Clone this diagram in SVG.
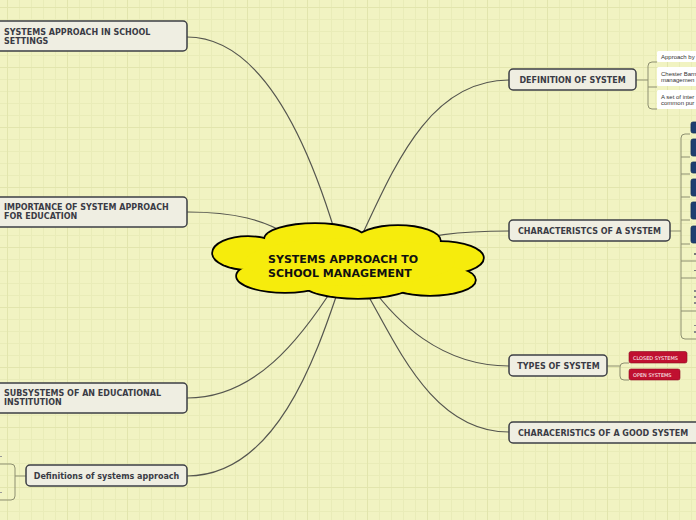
<svg xmlns="http://www.w3.org/2000/svg" width="696" height="520" viewBox="0 0 696 520">
<defs>
<pattern id="fine" width="12" height="12" patternUnits="userSpaceOnUse" x="7" y="7">
<path d="M0,0.5H12M0.5,0V12" fill="none" stroke="#e9ecb8" stroke-width="1"/>
</pattern>
<pattern id="major" width="60" height="60" patternUnits="userSpaceOnUse" x="7" y="7">
<path d="M0,0.5H60M0.5,0V60" fill="none" stroke="#e2e5ad" stroke-width="1"/>
</pattern>
</defs>
<style>
.node rect{fill:#efeee2;stroke:#3d3f45;stroke-width:1.5}
.lbl{font-family:"DejaVu Sans",Verdana,sans-serif;font-weight:bold;font-size:8px;fill:#3a3b45}
.conn path{fill:none;stroke:#55564f;stroke-width:1.2}
.br{fill:none;stroke:#8d8f70;stroke-width:1}
.blue{fill:#1f3f70;stroke:#16305a;stroke-width:0.8}
.red{fill:#c01030;stroke:#8a0a20;stroke-width:0.6}
.redt{font-family:"DejaVu Sans",Verdana,sans-serif;font-size:5px;fill:#ffffff}
.wt{fill:#ffffff;stroke:none}
.small{font-family:"Liberation Sans",Arial,sans-serif;font-size:6px;fill:#333333}
.cs{fill:none;stroke:#000;stroke-width:3.5}
.cf{fill:#f6ec0c;stroke:none}
</style>
<rect width="696" height="520" fill="#f1f3c2"/>
<rect width="696" height="520" fill="url(#fine)"/>
<rect width="696" height="520" fill="url(#major)"/>

<g id="connectors" class="conn">
<path d="M187,37 C265,37 310,150 335,232"/>
<path d="M187,212 C235,212 265,220 290,236"/>
<path d="M187,398 C255,398 300,340 335,285"/>
<path d="M187,476 C275,476 315,360 340,285"/>
<path d="M509,80 C430,80 395,165 362,235"/>
<path d="M509,231 C455,231 425,236 400,245"/>
<path d="M509,366 C440,366 395,320 370,285"/>
<path d="M509,432 C430,432 395,340 362,285"/>
</g>

<g id="brackets">
<path class="br" d="M636,80H648"/>
<path class="br" d="M657,62H652Q648,62 648,66V105Q648,109 652,109H657M648,87H657"/>
<path class="br" d="M669,231H681"/>
<path class="br" d="M690,134H685Q681,134 681,138V335Q681,339 685,339H696M681,157H690M681,174H690M681,197H690M681,220H690M681,244H690M681,261H696M681,278H696M681,311H696"/>
<path class="br" d="M607,366H620"/>
<path class="br" d="M629,363H624Q620,363 620,367V376Q620,380 624,380H629"/>
<path class="br" d="M26,476H15"/>
<path class="br" d="M0,464H11Q15,464 15,468V496Q15,500 11,500H0"/>
</g>

<g id="center">
<ellipse class="cs" cx="248" cy="253" rx="35" ry="16"/>
<ellipse class="cs" cx="315" cy="239" rx="50" ry="15"/>
<ellipse class="cs" cx="398" cy="241" rx="42" ry="15"/>
<ellipse class="cs" cx="440" cy="258" rx="43" ry="16"/>
<ellipse class="cs" cx="430" cy="280" rx="45" ry="15"/>
<ellipse class="cs" cx="358" cy="283" rx="55" ry="15"/>
<ellipse class="cs" cx="285" cy="276" rx="48" ry="16"/>
<ellipse class="cf" cx="248" cy="253" rx="35" ry="16"/>
<ellipse class="cf" cx="315" cy="239" rx="50" ry="15"/>
<ellipse class="cf" cx="398" cy="241" rx="42" ry="15"/>
<ellipse class="cf" cx="440" cy="258" rx="43" ry="16"/>
<ellipse class="cf" cx="430" cy="280" rx="45" ry="15"/>
<ellipse class="cf" cx="358" cy="283" rx="55" ry="15"/>
<ellipse class="cf" cx="285" cy="276" rx="48" ry="16"/>
<ellipse class="cf" cx="350" cy="262" rx="105" ry="24"/>
<text x="268" y="263" font-family="DejaVu Sans,Verdana,sans-serif" font-weight="bold" font-size="11" fill="#111">SYSTEMS APPROACH TO</text>
<text x="268" y="277" font-family="DejaVu Sans,Verdana,sans-serif" font-weight="bold" font-size="11" fill="#111">SCHOOL MANAGEMENT</text>
</g>

<g id="n1" class="node">
<rect x="-6" y="21" width="193" height="30" rx="4"/>
<text class="lbl" x="4" y="35">SYSTEMS APPROACH IN SCHOOL</text>
<text class="lbl" x="4" y="44">SETTINGS</text>
</g>
<g id="n2" class="node">
<rect x="-6" y="197" width="193" height="30" rx="4"/>
<text class="lbl" x="4" y="210">IMPORTANCE OF SYSTEM APPROACH</text>
<text class="lbl" x="4" y="219">FOR EDUCATION</text>
</g>
<g id="n3" class="node">
<rect x="-6" y="383" width="193" height="30" rx="4"/>
<text class="lbl" x="4" y="396">SUBSYSTEMS OF AN EDUCATIONAL</text>
<text class="lbl" x="4" y="405">INSTITUTION</text>
</g>
<g id="n4" class="node">
<rect x="26" y="465" width="161" height="21" rx="4"/>
<text class="lbl" x="106.5" y="478.5" text-anchor="middle">Definitions of systems approach</text>
</g>
<g id="n4c">
<rect x="0" y="456" width="2" height="1" fill="#999"/>
<rect x="0" y="492" width="2" height="1" fill="#999"/>
</g>

<g id="n5" class="node">
<rect x="509" y="69" width="127" height="21" rx="4"/>
<text class="lbl" x="572.5" y="82.5" text-anchor="middle">DEFINITION OF SYSTEM</text>
</g>
<g id="n5c">
<rect class="wt" x="657" y="51" width="45" height="11" rx="1.5"/>
<text class="small" x="661" y="59">Approach by</text>
<rect class="wt" x="657" y="67" width="45" height="19" rx="1.5"/>
<text class="small" x="661" y="75.5">Chester Barn</text>
<text class="small" x="661" y="82">managemen</text>
<rect class="wt" x="657" y="90" width="45" height="19" rx="1.5"/>
<text class="small" x="661" y="98.5">A set of inter</text>
<text class="small" x="661" y="105">common pur</text>
</g>

<g id="n6" class="node">
<rect x="509" y="220" width="161" height="21" rx="4"/>
<text class="lbl" x="589.5" y="233.5" text-anchor="middle">CHARACTERISTCS OF A SYSTEM</text>
</g>
<g id="n6c">
<rect class="blue" x="691" y="122" width="10" height="11" rx="2"/>
<rect class="blue" x="691" y="139" width="10" height="17" rx="2"/>
<rect class="blue" x="691" y="162" width="10" height="11" rx="2"/>
<rect class="blue" x="691" y="179" width="10" height="17" rx="2"/>
<rect class="blue" x="691" y="202" width="10" height="17" rx="2"/>
<rect class="blue" x="691" y="226" width="10" height="17" rx="2"/>
<rect x="694" y="253" width="2" height="2" fill="#777"/>
<rect x="694" y="270" width="2" height="1" fill="#777"/>
<rect x="694" y="290" width="2" height="2" fill="#888"/>
<rect x="694" y="296" width="2" height="2" fill="#888"/>
<rect x="694" y="302" width="2" height="2" fill="#888"/>
<rect x="694" y="325" width="2" height="1" fill="#888"/>
<rect x="694" y="331" width="2" height="2" fill="#888"/>
</g>

<g id="n7" class="node">
<rect x="509" y="355" width="98" height="21" rx="4"/>
<text class="lbl" x="558.5" y="368.5" text-anchor="middle">TYPES OF SYSTEM</text>
</g>
<g id="n7c">
<rect class="red" x="629" y="351.5" width="58" height="11.5" rx="2"/>
<text class="redt" x="633" y="359.5">CLOSED SYSTEMS</text>
<rect class="red" x="629" y="369" width="51" height="11" rx="2"/>
<text class="redt" x="633" y="377">OPEN SYSTEMS</text>
</g>

<g id="n8" class="node">
<rect x="509" y="422" width="200" height="21" rx="4"/>
<text class="lbl" x="518" y="436">CHARACERISTICS OF A GOOD SYSTEM</text>
</g>
</svg>
